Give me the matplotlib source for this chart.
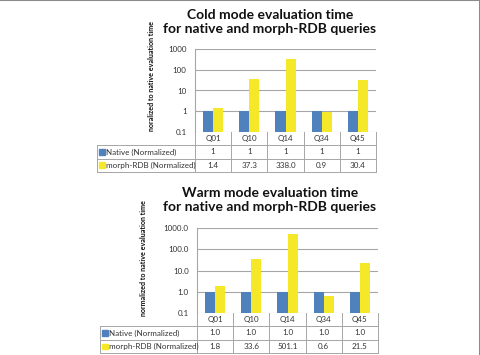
import numpy as np
import matplotlib
matplotlib.use("Agg")
import matplotlib.pyplot as plt
from matplotlib import transforms
from matplotlib.lines import Line2D
from matplotlib.patches import Rectangle

plt.rcParams['font.family'] = ['Lato', 'DejaVu Sans']

queries = ["Q01", "Q10", "Q14", "Q34", "Q45"]
series_names = ["Native (Normalized)", "morph-RDB (Normalized)"]

cold_native = [1, 1, 1, 1, 1]
cold_morph = [1.4, 37.3, 338.0, 0.9, 30.4]
cold_native_txt = ["1", "1", "1", "1", "1"]
cold_morph_txt = ["1.4", "37.3", "338.0", "0.9", "30.4"]
cold_ticks = ["0.1", "1", "10", "100", "1000"]

warm_native = [1.0, 1.0, 1.0, 1.0, 1.0]
warm_morph = [1.8, 33.6, 501.1, 0.6, 21.5]
warm_native_txt = ["1.0", "1.0", "1.0", "1.0", "1.0"]
warm_morph_txt = ["1.8", "33.6", "501.1", "0.6", "21.5"]
warm_ticks = ["0.1", "1.0", "10.0", "100.0", "1000.0"]

blue = "#4F81BD"
yellow = "#F5E828"
grid_c = "#A6A6A6"
text_c = "#333333"

W, H = 480, 355
fig = plt.figure(figsize=(W / 100, H / 100), dpi=100)


def px_box(left, right, top, bottom):
    return [left / W, 1 - bottom / H, (right - left) / W, (bottom - top) / H]


def draw_chart(box, title, title_y, ylabel, ylabel_x, ylabel_y,
               native, morph, native_txt, morph_txt, ticks, table_left_px):
    ax = fig.add_axes(px_box(*box))
    x = np.arange(len(queries)) + 0.5
    w = 0.28
    ax.set_yscale("log")
    ax.bar(x - w / 2, np.array(native) - 0.1, w, bottom=0.1, color=blue, zorder=3)
    ax.bar(x + w / 2, np.array(morph) - 0.1, w, bottom=0.1, color=yellow, zorder=3)
    ax.set_xlim(0, len(queries))
    ax.set_ylim(0.1, 1000)
    ax.set_yticks([0.1, 1, 10, 100, 1000])
    ax.set_yticklabels(ticks, fontsize=5.8, color=text_c)
    ax.minorticks_off()
    ax.yaxis.grid(True, color=grid_c, lw=0.8, zorder=0)
    ax.tick_params(axis="y", length=0, pad=6)
    ax.set_xticks([])
    for s in ["top", "right", "bottom"]:
        ax.spines[s].set_visible(False)
    ax.spines["left"].set_color(grid_c)
    ax.spines["left"].set_linewidth(0.8)

    fig.text(270 / W, 1 - title_y / H, title, ha="center", va="center",
             fontsize=10, fontweight="bold", color="#111111", linespacing=1.2)
    fig.text(ylabel_x / W, 1 - ylabel_y / H, ylabel, rotation=90, ha="center",
             va="center", fontsize=5.1, fontweight="bold", color="#111111")

    # data table under the plot
    trans = transforms.blended_transform_factory(ax.transData, ax.transAxes)
    box_h = box[3] - box[2]
    row_h = 13.3 / box_h
    x_left = (table_left_px - box[0]) / ((box[1] - box[0]) / len(queries))
    n = len(queries)
    lkw = dict(color=grid_c, lw=0.7, transform=trans, clip_on=False)
    ax.add_line(Line2D([0, n], [-row_h, -row_h], **lkw))
    for k in (1, 2, 3):
        ax.add_line(Line2D([x_left, n], [-row_h * k, -row_h * k], **lkw))
    for i in range(n + 1):
        ax.add_line(Line2D([i, i], [0, -3 * row_h], **lkw))
    ax.add_line(Line2D([x_left, x_left], [-row_h, -3 * row_h], **lkw))
    tkw = dict(transform=trans, fontsize=5.8, color=text_c, va="center", clip_on=False)
    for i, q in enumerate(queries):
        ax.text(x[i], -0.5 * row_h, q, ha="center", **tkw)
        ax.text(x[i], -1.5 * row_h, native_txt[i], ha="center", **tkw)
        ax.text(x[i], -2.5 * row_h, morph_txt[i], ha="center", **tkw)
    unit = (box[1] - box[0]) / n
    sq = 5.5 / unit
    for r, (name, c) in enumerate(zip(series_names, [blue, yellow])):
        yc = -(r + 1.5) * row_h
        ax.add_patch(Rectangle((x_left + 2.2 / unit, yc - 2.75 / box_h), sq, 5.5 / box_h,
                               color=c, transform=trans, clip_on=False))
        ax.text(x_left + 9 / unit, yc, name, ha="left", **tkw)
    return ax


draw_chart((195, 376, 49, 132),
           "Cold mode evaluation time\nfor native and morph-RDB queries", 22,
           "noralized to native evaluation time", 152, 76,
           cold_native, cold_morph, cold_native_txt, cold_morph_txt, cold_ticks, 97)
draw_chart((197, 378, 228, 313),
           "Warm mode evaluation time\nfor native and morph-RDB queries", 200,
           "normalized to native evaluation time", 143, 258,
           warm_native, warm_morph, warm_native_txt, warm_morph_txt, warm_ticks, 100)

# grey border on top and right edges
fig.add_artist(Line2D([0, 1], [0.999, 0.999], color="#8C8C8C", lw=1.5, transform=fig.transFigure))
fig.add_artist(Line2D([0.999, 0.999], [0, 1], color="#8C8C8C", lw=1.5, transform=fig.transFigure))

fig.savefig("out.png", dpi=100)
